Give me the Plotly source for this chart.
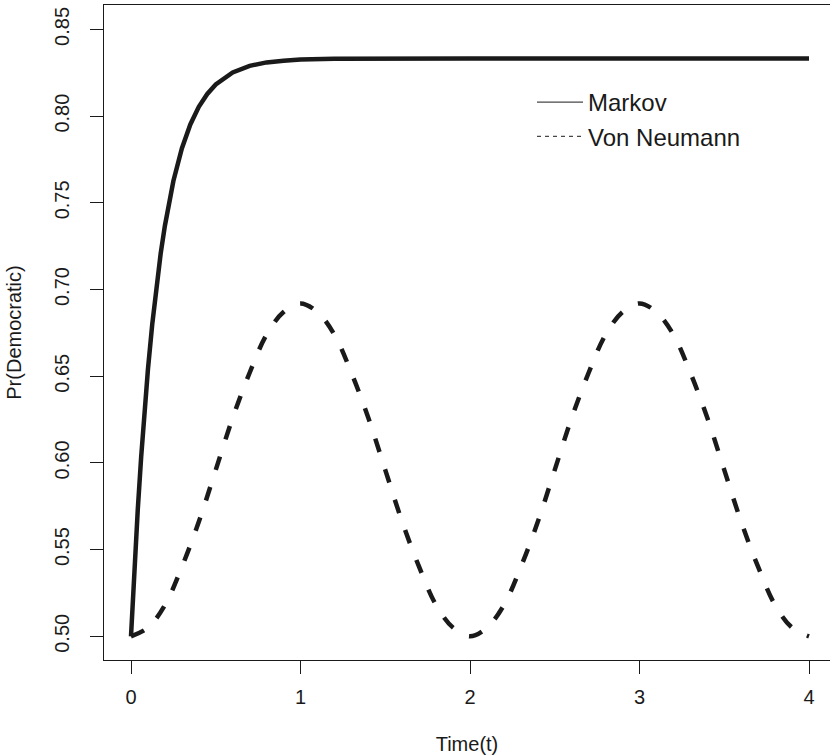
import plotly.graph_objects as go

# Markov series
markov_t = [0, 0.01, 0.02, 0.04, 0.06, 0.08, 0.10, 0.125, 0.15, 0.175, 0.20, 0.25, 0.30,
            0.35, 0.40, 0.45, 0.50, 0.6, 0.7, 0.8, 0.9, 1.0, 1.2, 1.5, 2.0, 2.5, 3.0, 3.5, 4.0]
markov_p = [0.5000, 0.5200, 0.5388, 0.5732, 0.6035, 0.6303, 0.6540, 0.6797, 0.7018, 0.7207,
            0.7368, 0.7626, 0.7814, 0.7952, 0.8054, 0.8128, 0.8183, 0.8252, 0.8290, 0.8310,
            0.8320, 0.8326, 0.8331, 0.8333, 0.8333, 0.8333, 0.8333, 0.8333, 0.8333]

# Von Neumann series
vn_t = [i / 10 for i in range(41)]
vn_p = [0.500, 0.505, 0.518, 0.540, 0.566, 0.596, 0.626, 0.652, 0.674, 0.687, 0.692,
        0.687, 0.674, 0.652, 0.626, 0.596, 0.566, 0.540, 0.518, 0.505, 0.500,
        0.505, 0.518, 0.540, 0.566, 0.596, 0.626, 0.652, 0.674, 0.687, 0.692,
        0.687, 0.674, 0.652, 0.626, 0.596, 0.566, 0.540, 0.518, 0.505, 0.500]

x_ticks = [0, 1, 2, 3, 4]
y_ticks = [0.50, 0.55, 0.60, 0.65, 0.70, 0.75, 0.80, 0.85]

FONT = "Liberation Sans, Arial, sans-serif"
INK = "#1a1a1a"

fig = go.Figure()
fig.add_trace(go.Scatter(x=markov_t, y=markov_p, mode="lines", name="Markov",
                         legendgroup="m", showlegend=False,
                         line=dict(color=INK, width=4.5)))
fig.add_trace(go.Scatter(x=vn_t, y=vn_p, mode="lines", name="Von Neumann",
                         legendgroup="v", showlegend=False,
                         line=dict(color=INK, width=4.5, dash="14px,18px", shape="spline")))
# legend entries (thin sample lines, as in reference)
fig.add_trace(go.Scatter(x=[None], y=[None], mode="lines", name="Markov", legendgroup="m",
                         line=dict(color=INK, width=1)))
fig.add_trace(go.Scatter(x=[None], y=[None], mode="lines", name="Von Neumann", legendgroup="v",
                         line=dict(color=INK, width=1, dash="4px,4px")))

L, T, B = 104, 5, 95
W, H = 830, 755
pw, ph = W - L, H - T - B

fig.update_layout(
    width=W, height=H,
    margin=dict(l=L, r=0, t=T, b=B, autoexpand=False),
    paper_bgcolor="white", plot_bgcolor="white",
    font=dict(family=FONT, size=20, color=INK),
    showlegend=True,
    legend=dict(x=(532 - L) / pw, y=(660 - 80) / ph, xanchor="left", yanchor="top",
                bgcolor="rgba(0,0,0,0)", borderwidth=0, itemwidth=46,
                font=dict(family=FONT, size=24, color=INK), tracegroupgap=0),
    xaxis=dict(range=[-0.1593, 4.1239], tickvals=x_ticks, ticktext=[str(v) for v in x_ticks],
               showgrid=False, zeroline=False, showline=True, mirror=True, automargin=False,
               linecolor=INK, linewidth=1.3, ticks="outside", ticklen=13, tickwidth=1,
               tickcolor=INK, tickfont=dict(size=20), ticklabelstandoff=6,
               title=dict(text="Time(t)", font=dict(size=20), standoff=40)),
    yaxis=dict(range=[0.48633, 0.86410], tickvals=y_ticks, tickformat=".2f",
               showgrid=False, zeroline=False, showline=True, mirror=False, automargin=False,
               linecolor=INK, linewidth=1.3, ticks="outside", ticklen=13, tickwidth=1,
               tickcolor=INK, tickangle=-90, tickfont=dict(size=20), ticklabelstandoff=13,
               title=dict(text="Pr(Democratic)", font=dict(size=20), standoff=23)),
)

fig.write_html("out.html")
